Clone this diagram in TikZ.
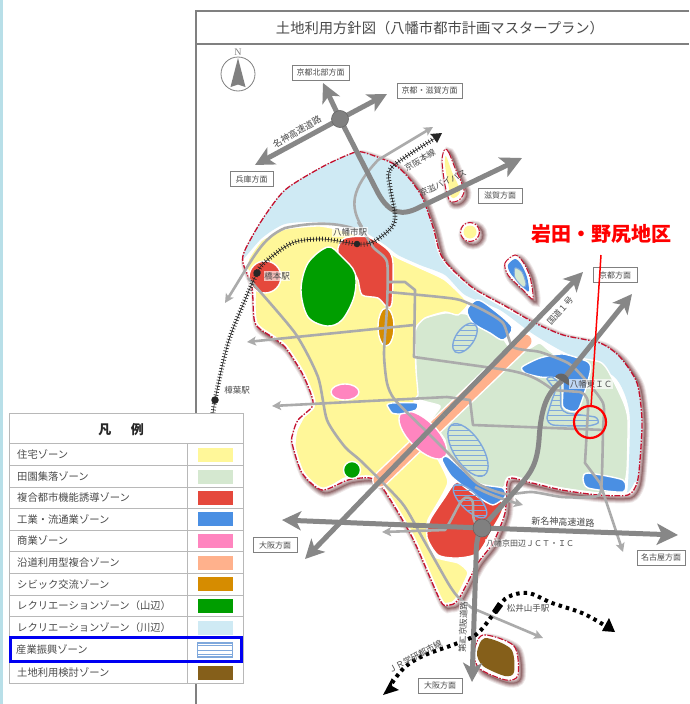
\documentclass[tikz,border=0pt]{standalone}
\usepackage{fontspec}
\setmainfont{Noto Sans CJK JP}
\newfontfamily\serfont{Liberation Serif}
\usetikzlibrary{arrows.meta,decorations.pathreplacing}
\definecolor{zyellow}{HTML}{FFF799}
\definecolor{zgreen}{HTML}{D5E8D0}
\definecolor{zred}{HTML}{E5483C}
\definecolor{zblue}{HTML}{4A8FE3}
\definecolor{zpink}{HTML}{FF85BF}
\definecolor{zorange}{HTML}{FFB18C}
\definecolor{zcivic}{HTML}{D68C00}
\definecolor{zdgreen}{HTML}{009E00}
\definecolor{zriver}{HTML}{CFEAF4}
\definecolor{zbrown}{HTML}{855F1A}
\definecolor{road}{HTML}{878787}
\definecolor{lroad}{HTML}{ABABAB}
\definecolor{frame}{HTML}{808080}
\definecolor{hatchc}{HTML}{7FA8DC}
\definecolor{shadowc}{HTML}{5E1F22}
\definecolor{txt}{HTML}{4A4A4A}
\definecolor{strip}{HTML}{B8DFE8}
\definecolor{cityred}{HTML}{C4122F}
\tikzset{
 zone/.style={draw=white,line width=1.4pt,line join=round},
 citydash/.style={draw=cityred,line width=1.3pt,dash pattern=on 6pt off 1.5pt on 1.5pt off 1.5pt},
 hroad/.style={draw=road,line width=5pt},
 hhead/.style={-{Stealth[length=19pt,width=19pt,inset=5pt]}},
 lway/.style={draw=lroad,line width=2.6pt,line join=round},
 lhead/.style={-{Stealth[length=9pt,width=9pt,inset=2pt]}},
 railway/.style={draw=black!85,line width=.7pt,decorate,decoration={ticks,segment length=3pt,amplitude=2.4pt}},
 dotrail/.style={draw=black,line width=4pt,dash pattern=on 3.5pt off 4pt},
 dirbox/.style={draw=frame,line width=1pt,fill=white,text=txt,font=\fontsize{8}{8}\selectfont,minimum height=15pt,inner sep=0pt},
 lab/.style={text=txt,font=\fontsize{8.5}{9}\selectfont,inner sep=.6pt},
 halo/.style={lab,fill=white,fill opacity=.65,text opacity=1},
 legtext/.style={anchor=west,text=txt,font=\fontsize{10.3}{11}\selectfont,inner sep=0pt},
 swatch/.style={minimum width=36pt,minimum height=15pt,inner sep=0pt,draw=white,line width=.6pt},
 hatchln/.style={draw=hatchc,line width=.8pt},
 hatchedge/.style={draw=hatchc,line width=1.4pt},
 junction/.style={circle,draw=black!60,fill=frame,line width=.6pt,inner sep=0pt,minimum size=17pt},
 station/.style={circle,fill=black!85,inner sep=0pt,minimum size=6.5pt},
}
\def\pOuter{plot[smooth cycle,tension=.45] coordinates{(362,152)(392,163)(408,177)(422,197)(433,227)(440,253)(450,267)(473,288)(507,307)(533,322)(563,335)(600,343)(620,357)(637,383)(642,420)(640,460)(637,483)(628,495)(598,495)(562,490)(528,482)(512,478)(507,483)(505,513)(493,543)(478,563)(458,600)(448,605)(440,600)(412,537)(382,487)(370,478)(348,480)(322,490)(302,473)(292,443)(293,433)(298,420)(312,407)(312,397)(302,373)(285,347)(272,337)(255,323)(252,287)(243,263)(245,250)(262,220)(285,190)(322,167)(350,154)}}
\def\pDropA{plot[smooth cycle,tension=.5] coordinates{(445,149)(449,153)(455,168)(464,190)(459,200)(450,201)(445,185)(442,160)}}
\def\pDropB{plot[smooth cycle,tension=.5] coordinates{(515,255)(505,263)(508,275)(523,290)(533,299)(530,277)(523,262)}}
\def\pBrown{plot[smooth cycle,tension=.5] coordinates{(483,635)(514,646)(518,675)(506,680)(480,669)(474,653)}}
\def\pHD{plot[smooth cycle,tension=.35] coordinates{(547,379)(552,377)(560,385)(561,407)(567,413)(595,417)(598,423)(587,426)(553,425)(547,418)(552,400)(555,390)}}
\def\railpts{plot[smooth,tension=.5] coordinates{(437,137)(392,167)(390,187)(395,213)(392,227)(373,242)(357,244)(322,239)(292,243)(265,262)(257,273)(245,300)(228,343)(215,400)(212,425)}}
\newcommand{\hatchell}[5]{%
 \begin{scope}\clip[rotate around={#4:(#1,#2)}] (#1,#2) ellipse [x radius=#3,y radius=#5];
 \foreach \yy in {300,305,...,560}{\draw[hatchln] (430,\yy)--(510,\yy);}\end{scope}
 \draw[hatchedge,rotate around={#4:(#1,#2)}] (#1,#2) ellipse [x radius=#3,y radius=#5];}
\begin{document}
\begin{tikzpicture}[x=1pt,y=-1pt]
\useasboundingbox (0,0) rectangle (689,704);
\fill[white] (0,0) rectangle (689,704);
\fill[strip] (0,0) rectangle (3,704);
% frame
\draw[frame,line width=2pt] (689,11)--(196,11)--(196,704);
\draw[frame,line width=2pt] (196,44)--(689,44);
\node[text=txt,font=\fontsize{14.3}{15}\selectfont,inner sep=0pt] (title) at (440,28) {土地利用方針図（八幡市都市計画マスタープラン）};
% compass
\node[text=frame,font=\serfont\fontsize{10}{10}\selectfont,inner sep=0pt] (north) at (238,52) {N};
\node[circle,draw=frame,line width=.8pt,minimum size=34pt,inner sep=0pt] (compass) at (238,74) {};
\fill[frame] (238,58)--(245.5,87)--(238,84.5)--(230.5,87)--cycle;
% shadows
\begin{scope}[shift={(3,3)}]
\foreach \w/\o in {9/.1,7/.14,5/.18,3/.22,1/.3}{
 \draw[shadowc,opacity=\o,line width=\w pt] \pOuter;
 \draw[shadowc,opacity=\o,line width=\w pt] \pDropA;
 \draw[shadowc,opacity=\o,line width=\w pt] \pDropB;
 \draw[shadowc,opacity=\o,line width=\w pt] \pBrown;
 \draw[shadowc,opacity=\o,line width=\w pt] (470,232) circle (10);
}
\end{scope}
\fill[white] \pOuter;
\fill[white] \pDropA; \fill[white] \pDropB; \fill[white] \pBrown; \fill[white] (470,232) circle (10);
% zones in city
\begin{scope}
\clip \pOuter;
\fill[zriver] plot[smooth cycle,tension=.4] coordinates{(240,262)(258,222)(285,188)(322,164)(362,148)(395,158)(425,193)(437,250)(450,270)(473,290)(507,310)(540,325)(600,340)(625,352)(648,385)(648,440)(642,495)(626,500)(628,485)(630,420)(625,395)(612,375)(560,350)(530,332)(500,310)(465,295)(445,275)(420,265)(398,255)(385,245)(360,230)(320,222)(285,224)(262,238)};
\path[zone,fill=zgreen] plot[smooth cycle,tension=.35] coordinates{(415,332)(423,319)(445,313)(470,315)(500,335)(512,350)(530,348)(540,343)(555,354)(600,362)(612,378)(624,403)(628,420)(627,470)(622,490)(600,493)(560,488)(530,482)(512,477)(500,490)(475,482)(448,455)(445,440)(432,420)(440,406)(417,398)(416,370)};
\path[zone,fill=zyellow] plot[smooth cycle,tension=.3] coordinates{(249,258)(262,240)(285,229)(320,226)(352,233)(385,250)(398,258)(420,268)(445,280)(468,303)(458,315)(445,312)(425,318)(415,330)(416,370)(418,395)(414,400)(416,420)(430,445)(448,482)(428,520)(427,537)(435,557)(458,563)(468,573)(455,600)(445,605)(438,598)(405,540)(382,487)(372,478)(345,478)(323,490)(302,473)(295,447)(297,430)(310,405)(312,395)(300,370)(283,348)(272,340)(255,325)(255,290)(247,270)};
\draw[white,line width=5pt] plot[smooth,tension=.45] coordinates{(637,483)(628,495)(598,495)(562,490)(528,482)(512,478)(507,483)(505,513)(493,543)(478,563)(458,600)(448,605)(440,600)(412,537)(382,487)(370,478)(348,480)(322,490)(302,473)(292,443)(293,433)(298,420)(312,407)(312,397)(302,373)(285,347)(272,337)(255,323)(252,287)(243,263)};
\end{scope}
\draw[citydash] \pOuter;
% orange band
\draw[white,line width=16pt,line cap=round] (380,480)--(525,341);
\draw[zorange,line width=13pt,line cap=round] (380,480)--(525,341);
% red
\path[zone,fill=zred] plot[smooth cycle,tension=.45] coordinates{(338,248)(345,238)(368,237)(388,250)(393,263)(392,303)(387,307)(378,298)(362,295)(358,280)(352,270)(340,260)};
\node[zone,circle,fill=zred,minimum size=32pt,inner sep=0pt] (hashimotored) at (265,277) {};
\path[zone,fill=zred] plot[smooth cycle,tension=.45] coordinates{(455,483)(468,482)(503,503)(492,530)(478,553)(458,558)(438,555)(427,537)(430,520)(445,497)};
% dark green
\path[zone,fill=zdgreen] plot[smooth cycle,tension=.55] coordinates{(328,247)(342,257)(355,273)(354,297)(342,320)(327,326)(308,317)(301,290)(308,263)};
\node[zone,circle,fill=zdgreen,minimum size=17pt,inner sep=0pt] (dgsmall) at (352,470) {};
% civic, pink
\path[zone,fill=zcivic] (386,327) ellipse [x radius=8,y radius=19];
\path[zone,fill=zpink] (345,392) ellipse [x radius=14,y radius=8];
\path[zone,fill=zpink,rotate around={-45:(423,435)}] (423,435) ellipse [x radius=31,y radius=14];
% blue
\path[zone,fill=zblue] plot[smooth cycle,tension=.5] coordinates{(467,310)(477,300)(490,307)(512,327)(503,340)(490,333)(473,323)};
\path[zone,fill=zblue] plot[smooth cycle,tension=.4] coordinates{(522,367)(540,358)(563,354)(588,362)(590,373)(578,410)(563,407)(562,380)(540,377)(525,373)};
\path[zone,fill=zblue] plot[smooth cycle,tension=.4] coordinates{(583,478)(588,473)(623,480)(623,492)(588,488)};
\path[zone,fill=zblue] plot[smooth cycle,tension=.35] coordinates{(442,460)(448,457)(478,483)(503,488)(505,497)(493,505)(478,497)(452,477)};
\path[zone,fill=zblue] plot[smooth cycle,tension=.3] coordinates{(387,405)(392,403)(417,403)(416,410)(400,414)(392,413)};
% hatch zones
\fill[zgreen] \pHD;
\hatchell{465}{338}{17}{55}{9}
\hatchell{468}{450}{30}{-57}{14}
\hatchell{470}{501}{22}{-45}{9}
\begin{scope}\clip \pHD;\foreach \yy in {380,385,...,430}{\draw[hatchln] (540,\yy)--(605,\yy);}\end{scope}
\draw[hatchedge] \pHD;
% drops
\fill[zyellow] plot[smooth cycle,tension=.5] coordinates{(446,156)(452,172)(460,190)(456,197)(451,197)(448,183)(445,165)};
\draw[citydash,line width=1pt] \pDropA;
\fill[zblue] plot[smooth cycle,tension=.5] coordinates{(515,259)(508,265)(511,274)(525,289)(529,291)(527,277)(521,264)};
\fill[zgreen] plot[smooth cycle,tension=.5] coordinates{(515,268)(522,272)(526,284)(523,287)(515,278)};
\draw[hatchc,line width=1pt] plot[smooth cycle,tension=.5] coordinates{(515,268)(522,272)(526,284)(523,287)(515,278)};
\draw[citydash,line width=1pt] \pDropB;
\fill[zyellow] (470,232) circle (6.5);
\draw[citydash,line width=1.1pt] (470,232) circle (9.5);
\fill[zbrown] plot[smooth cycle,tension=.5] coordinates{(485,638)(511,649)(514,672)(505,676)(483,666)(477,653)};
\draw[citydash,line width=1.1pt] \pBrown;
% junctions as named points
\coordinate (J1) at (340,119);
\coordinate (J2) at (482,528);
\coordinate (IC) at (562,381);
% light roads
\draw[lway,lhead] (362,227) .. controls (350,207) and (350,190) .. (378,160) -- (433,127);
\draw[lway] plot[smooth,tension=.4] coordinates{(358,222)(373,247)(387,262)(387,307)(384,353)(387,383)(395,400)(428,433)(448,453)(477,483)(505,494)(532,492)(562,497)(592,497)(601,490)(603,430)(603,403)(583,377)(568,363)(540,352)(513,347)(503,323)(483,310)(460,300)(440,297)(388,292)};
\draw[lway] (388,282)--(405,282)--(415,290)--(414,357)--(507,370)
 .. controls (530,374) and (540,380) .. (553,390) -- (580,392) .. controls (588,395) and (588,400) .. (588,410) -- (585,463)--(600,483);
\draw[lway,lhead] (600,483)--(623,552);
\draw[lway,lhead] (414,325)--(247,342);
\draw[lway,lhead] (447,397)--(272,406);
\draw[lway] (447,397)--(470,400)--(473,425)--(605,430);
\draw[lway,lhead] (358,230) .. controls (338,222) and (312,222) .. (285,228) .. controls (262,238) and (255,255) .. (225,303);
\draw[lway,lhead] plot[smooth,tension=.4] coordinates{(248,278)(295,333)(318,377)(327,420)(345,447)(362,462)(402,503)(422,537)(448,583)(458,597)(472,608)} -- (543,638);
\draw[lway,lhead] (475,487) .. controls (490,495) and (505,500) .. (523,505);
\draw[lway,lhead] (477,525) .. controls (470,518) and (475,505) .. (472,500) .. controls (462,490) and (458,510) .. (445,530) -- (382,532);
% highways
\draw[hroad,hhead] (444,415)--(305,559);
\draw[hroad,hhead] (444,415)--(583,272);
\draw[hroad,hhead] (J1)--(323,83);
\draw[hroad,hhead] (J1)--(387,94);
\draw[hroad,hhead] (J1)--(255,165);
\draw[hroad,-{Stealth[length=21pt,width=21pt,inset=5pt]}] (J1) -- (378,193) .. controls (390,215) and (403,216) .. (420,207) -- (522,158);
\draw[hroad,hhead] (IC) -- (632,294);
\draw[hroad,line join=round] (IC) .. controls (548,392) and (541,405) .. (539,440) .. controls (537,465) and (530,473) .. (522,483) -- (J2);
\draw[hroad,hhead] (J2) -- (282,520);
\draw[hroad,-{Stealth[length=21pt,width=21pt,inset=5pt]}] (J2) -- (678,535);
\draw[hroad,hhead] (J2) .. controls (477,535) and (476,545) .. (476,560) -- (472,682);
% main railway
\draw[railway] \railpts;
\draw[black!85,line width=.6pt] \railpts;
\fill[black!85] (442,133) -- (430,134) -- (434,138) -- (437,143) -- cycle;
\node[station] (syawata) at (357,244) {};
\node[station,minimum size=7.5pt] (shashimoto) at (257,273) {};
\node[station,minimum size=7.5pt] (skusuha) at (215,400) {};
% dotted railway
\draw[dotrail] plot[smooth,tension=.6] coordinates{(392,683)(405,667)(425,655)(458,643)(478,633)(498,608)(508,597)(528,593)(552,603)(582,613)(604,625)};
\fill[black] (383,695) -- (392,678) -- (392,686) -- (399,690) -- cycle;
\fill[black] (615,632) -- (602,631) -- (609,618) -- cycle;
\fill[black] (498,602) -- (503,606) -- (497,614) -- (492,611) -- cycle;
% junction discs
\node[junction] (j1disc) at (J1) {};
\node[junction,minimum size=18pt] (j2disc) at (J2) {};
\fill[black!60] (555,377) .. controls (558,371) and (570,372) .. (570,386) -- cycle;
% direction boxes
\node[dirbox,minimum width=57pt] (b1) at (320.5,72.5) {京都北部方面};
\node[dirbox,minimum width=65pt] (b2) at (429.5,90.5) {京都・滋賀方面};
\node[dirbox,minimum width=43pt] (b3) at (251.5,179) {兵庫方面};
\node[dirbox,minimum width=44pt] (b4) at (500,195.5) {滋賀方面};
\node[dirbox,minimum width=44pt] (b5) at (615,275) {京都方面};
\node[dirbox,minimum width=44pt] (b6) at (275,545) {大阪方面};
\node[dirbox,minimum width=48pt] (b7) at (661,557.5) {名古屋方面};
\node[dirbox,minimum width=44pt] (b8) at (440,685.5) {大阪方面};
% labels
\node[halo] (l1) at (350,232) {八幡市駅};
\node[halo] (l2) at (277,276) {橋本駅};
\node[lab] (l3) at (237,390) {樟葉駅};
\node[halo] (l4) at (591,384) {八幡東ＩＣ};
\node[halo,font=\fontsize{8}{9}\selectfont] (l5) at (530,543) {八幡京田辺ＪＣＴ・ＩＣ};
\node[lab,rotate=-2,font=\fontsize{9}{9}\selectfont] (l6) at (563,522) {新名神高速道路};
\node[lab] (l7) at (528,608) {松井山手駅};
\node[lab,rotate=28] (l8) at (415,657) {ＪＲ学研都市線};
\node[halo,rotate=88] (l9) at (463,627) {第二京阪道路};
\node[lab,rotate=30,font=\fontsize{9}{9}\selectfont] (l10) at (297,132) {名神高速道路};
\node[lab,rotate=30] (l11) at (420,160) {京阪本線};
\node[lab,rotate=25] (l12) at (443,183) {京滋バイパス};
\node[lab,rotate=48] (l13) at (560,311) {国道１号};
% red callout
\node[text=red,font=\fontsize{20}{20}\selectfont\bfseries,inner sep=0pt] (callout) at (601,234) {岩田・野尻地区};
\node[circle,draw=red,line width=2.2pt,minimum size=32pt,inner sep=0pt] (target) at (590,422) {};
\coordinate (calloutfoot) at (601,255);
\draw[red,line width=1.5pt] (calloutfoot) -- (target);
% legend
\draw[black!28,fill=white,line width=1pt] (9,413) rectangle (243,683);
\node[font=\fontsize{13}{13}\selectfont\bfseries,text=black!85,inner sep=0pt] (legtitle) at (121,430) {凡\hspace{1.5em}例};
\foreach \yy in {443,465.7,487.3,508.3,530,551.7,573.3,595,616.7,638.3,661.7}{\draw[black!28,line width=.8pt] (9,\yy)--(243,\yy);}
\draw[black!28,line width=.8pt] (187,443)--(187,683);
\foreach \yy/\tx/\cc [count=\i] in {454.4/住宅ゾーン/zyellow,476.5/田園集落ゾーン/zgreen,497.8/複合都市機能誘導ゾーン/zred,519.2/工業・流通業ゾーン/zblue,540.8/商業ゾーン/zpink,562.5/沿道利用型複合ゾーン/zorange,584.2/シビック交流ゾーン/zcivic,605.8/レクリエーションゾーン（山辺）/zdgreen,627.5/レクリエーションゾーン（川辺）/zriver,672.3/土地利用検討ゾーン/zbrown}{
 \node[legtext] (legt\i) at (17,\yy) {\tx};
 \node[swatch,fill=\cc] (legs\i) at (215,\yy) {};
}
\node[legtext] (legthatch) at (16,650) {産業振興ゾーン};
\node[draw=hatchc,line width=1.6pt,fill=white,minimum width=35pt,minimum height=14pt,inner sep=0pt] (leghatch) at (215,650) {};
\draw[hatchc,line width=.8pt] (198,645.5)--(232,645.5) (198,650)--(232,650) (198,654.5)--(232,654.5);
\draw[blue!95!black,line width=2.5pt] (10.5,637.5) rectangle (241.5,661.5);
\end{tikzpicture}
\end{document}
